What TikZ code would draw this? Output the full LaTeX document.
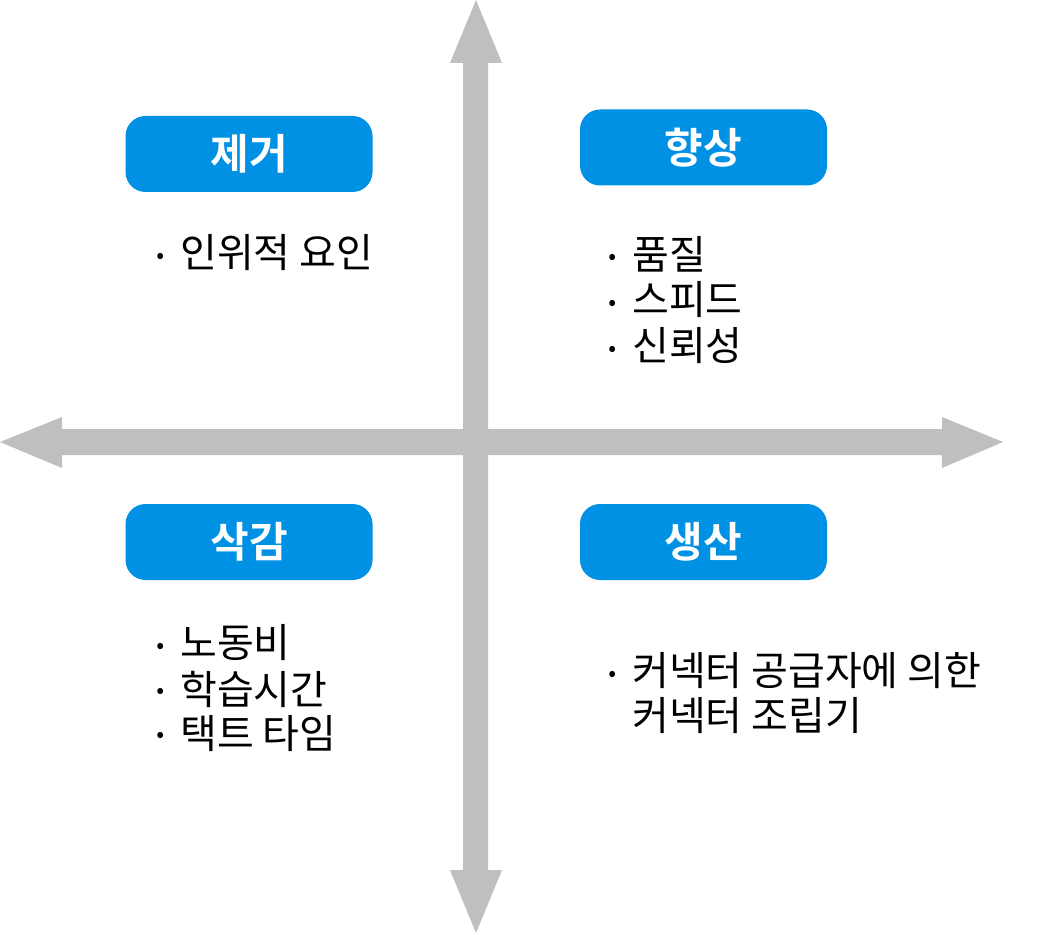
\documentclass[tikz,border=0pt]{standalone}
\usepackage{fontspec}
\newfontfamily\kr{Noto Sans CJK KR}
\newfontfamily\krb{Noto Sans CJK KR Bold}
\definecolor{axisgray}{HTML}{BFBFBF}
\definecolor{boxblue}{HTML}{0090E4}
\begin{document}
\begin{tikzpicture}[x=1pt,y=-1pt,
  headbox/.style={fill=boxblue, rounded corners=20pt, minimum width=247pt, minimum height=76pt, inner sep=0pt, text=white, font=\krb\fontsize{42}{46}\selectfont},
  itemtext/.style={anchor=west, inner sep=0pt, font=\kr\fontsize{40}{46}\selectfont},
  bul/.style={inner sep=0pt, font=\kr\fontsize{44}{46}\selectfont}]
\useasboundingbox (0,0) rectangle (1042,933);
% axes
\fill[axisgray] (463,63) -- (450,63) -- (476,0) -- (502,63) -- (488,63) -- (488,870) -- (502,870) -- (476,933) -- (450,870) -- (463,870) -- cycle;
\fill[axisgray] (62,429) -- (62,417) -- (0,442) -- (62,468) -- (62,455) -- (942,455) -- (942,468) -- (1003,442) -- (942,417) -- (942,429) -- cycle;
% headings
\node[headbox] (h1) at (249,154) {제거};
\node[headbox] (h2) at (703.5,147.5) {향상};
\node[headbox] (h3) at (249,542) {삭감};
\node[headbox] (h4) at (703.5,542) {생산};
% top-left
\node[bul] (b1) at (161,263) {·};
\node[itemtext] (t1) at (180,253) {인위적 요인};
% top-right
\node[bul] (b2) at (613,264) {·};
\node[itemtext] (t2) at (632,254) {품질};
\node[bul] (b3) at (613,310) {·};
\node[itemtext] (t3) at (632,300) {스피드};
\node[bul] (b4) at (613,356) {·};
\node[itemtext] (t4) at (632,346) {신뢰성};
% bottom-left
\node[bul] (b5) at (161,653) {·};
\node[itemtext] (t5) at (180,643) {노동비};
\node[bul] (b6) at (161,698) {·};
\node[itemtext] (t6) at (180,689) {학습시간};
\node[bul] (b7) at (161,742) {·};
\node[itemtext] (t7) at (180,734) {택트 타임};
% bottom-right
\node[bul] (b8) at (613,681) {·};
\node[itemtext] (t8) at (632,671) {커넥터 공급자에 의한};
\node[itemtext] (t9) at (632,716) {커넥터 조립기};
\end{tikzpicture}
\end{document}
